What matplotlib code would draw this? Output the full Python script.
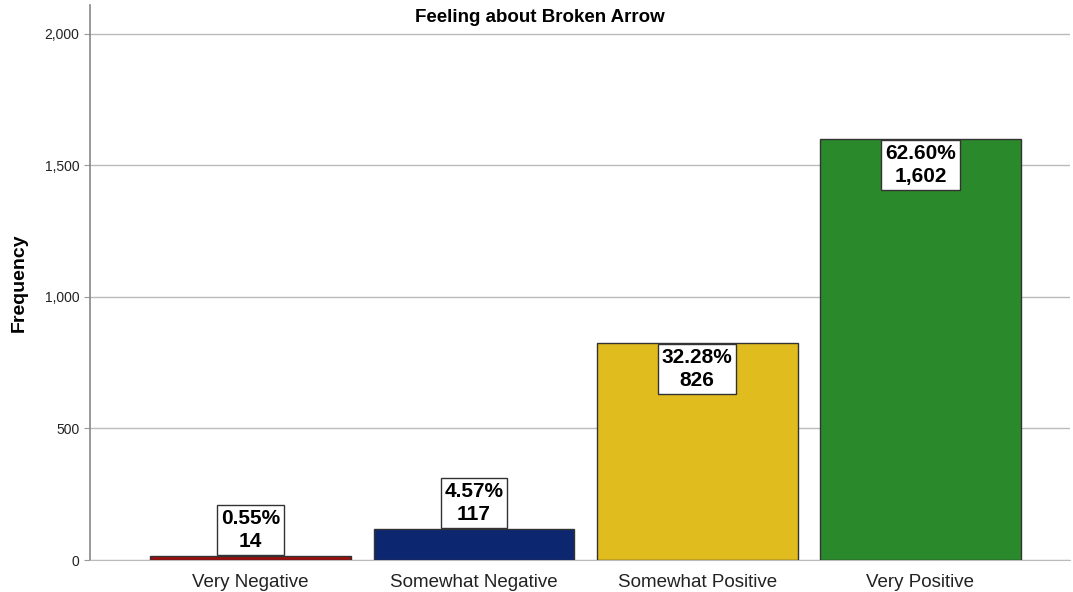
import matplotlib.pyplot as plt

plt.rcParams['font.family'] = ['Liberation Sans', 'DejaVu Sans']

kategorie = ['Very Negative', 'Somewhat Negative', 'Somewhat Positive', 'Very Positive']
czestosci = [14, 117, 826, 1602]
procenty = [0.55, 4.57, 32.28, 62.60]
kolory = ['#9A0E0E', '#0C2670', '#E1BC1F', '#2A8A2B']

fig = plt.figure(figsize=(10.73, 5.92), dpi=100)
ax = fig.add_axes([90 / 1073, 32 / 592, 980 / 1073, 555 / 592])

x = list(range(len(kategorie)))
ax.bar(x, czestosci, width=0.9, color=kolory, edgecolor='#333333', linewidth=1.0, zorder=3)

ax.set_xlim(-0.72, 3.67)
ax.set_ylim(0, 2110)
ax.set_yticks([0, 500, 1000, 1500, 2000])
ax.set_yticklabels(['0', '500', '1,000', '1,500', '2,000'])
ax.set_xticks(x)
ax.set_xticklabels(kategorie, fontsize=13.5, color='#222222')
ax.tick_params(axis='y', labelsize=10, colors='#222222', length=4, color='#999999')
ax.tick_params(axis='x', length=0, pad=10)
ax.grid(axis='y', color='#bbbbbb', linewidth=1.0, zorder=0)

for s in ['top', 'right']:
    ax.spines[s].set_visible(False)
ax.spines['left'].set_color('#888888')
ax.spines['left'].set_linewidth(1.2)
ax.spines['bottom'].set_color('#bbbbbb')

ax.set_ylabel('Frequency', fontsize=14, fontweight='bold', labelpad=12)
fig.text(540 / 1073, 1 - 18 / 592, 'Feeling about Broken Arrow',
         ha='center', va='center', fontsize=13.5, fontweight='bold')

pad = 0.18
fs = 15
for xi, v, p in zip(x, czestosci, procenty):
    tekst = f'{p:.2f}%\n{v:,}'
    if v > 300:
        xy_off = (0, -pad * fs - 1)
        va = 'top'
    else:
        xy_off = (0, pad * fs + 1)
        va = 'bottom'
    ax.annotate(tekst, (xi, v), xytext=xy_off, textcoords='offset points',
                ha='center', va=va, fontsize=fs, fontweight='bold',
                linespacing=1.3, zorder=5,
                bbox=dict(boxstyle=f'square,pad={pad}', fc='white', ec='#333333', lw=1.0))

plt.savefig('out.png')
